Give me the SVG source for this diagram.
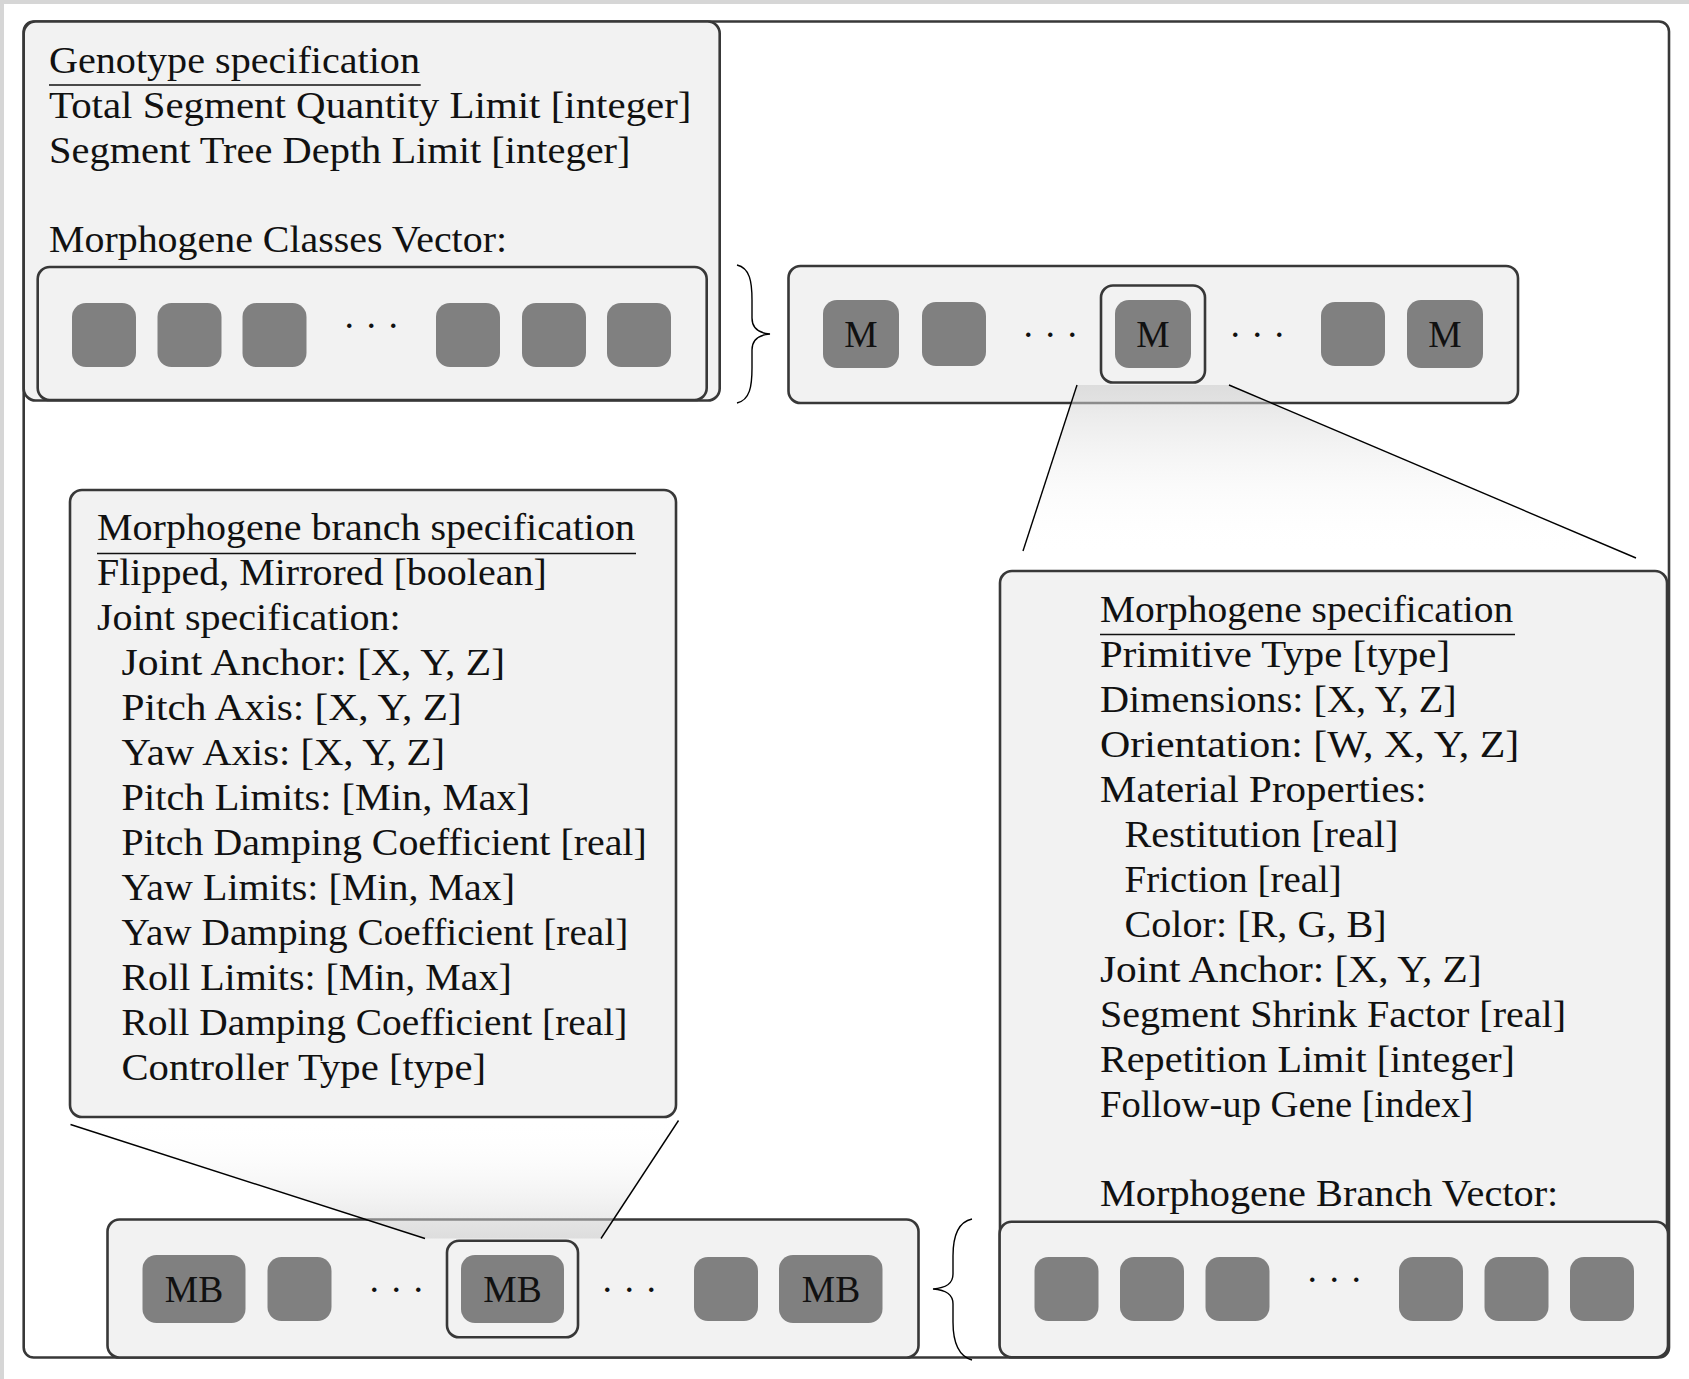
<svg xmlns="http://www.w3.org/2000/svg" width="1689" height="1379" viewBox="0 0 1689 1379">
<style>
.box{fill:#f2f2f2;stroke:#383838;stroke-width:2.6}
.frame{fill:#fff;stroke:#383838;stroke-width:2.6}
.hl{fill:none;stroke:#383838;stroke-width:2.6}
.sq{fill:#808080}
.t{font-family:"Liberation Serif","Times New Roman",serif;font-size:37.5px;fill:#111}
.c{text-anchor:middle}
.dots{font-family:"Liberation Serif","Times New Roman",serif;font-size:37.5px;fill:#111;text-anchor:middle;letter-spacing:9.5px}
.ul{stroke:#111;stroke-width:1.5}
.ln{stroke:#000;stroke-width:1.4;fill:none}
</style>
<defs>
<linearGradient id="gDown" gradientUnits="userSpaceOnUse" x1="0" y1="385" x2="0" y2="556">
<stop offset="0" stop-color="#cfcfcf" stop-opacity="0.6"/>
<stop offset="1" stop-color="#ffffff" stop-opacity="0"/>
</linearGradient>
<linearGradient id="gUp" gradientUnits="userSpaceOnUse" x1="0" y1="1120" x2="0" y2="1239">
<stop offset="0" stop-color="#ffffff" stop-opacity="0"/>
<stop offset="1" stop-color="#cfcfcf" stop-opacity="0.6"/>
</linearGradient>
</defs>
<rect width="1689" height="1379" fill="#fff"/>
<path d="M2,1379 V2 H1689" fill="none" stroke="#d6d6d6" stroke-width="4"/>

<g id="outer-frame">
<rect class="frame" x="23.7" y="21.5" width="1645.3" height="1336" rx="10"/>
</g>

<g id="genotype-spec">
<rect class="box" x="23.7" y="21.5" width="696" height="379" rx="12"/>
<text class="t" x="49" y="72.5" textLength="371" lengthAdjust="spacingAndGlyphs">Genotype specification</text>
<line class="ul" x1="49" y1="85" x2="420.7" y2="85"/>
<text class="t" x="49" y="117.5" textLength="642.5" lengthAdjust="spacingAndGlyphs">Total Segment Quantity Limit [integer]</text>
<text class="t" x="49" y="162.5" textLength="581.5" lengthAdjust="spacingAndGlyphs">Segment Tree Depth Limit [integer]</text>
<text class="t" x="49" y="252" textLength="458" lengthAdjust="spacingAndGlyphs">Morphogene Classes Vector:</text>
</g>

<g id="classes-vector">
<rect class="box" x="37.7" y="267" width="669" height="133" rx="12"/>
<rect class="sq" x="72" y="303" width="64" height="64" rx="14"/>
<rect class="sq" x="157.5" y="303" width="64" height="64" rx="14"/>
<rect class="sq" x="242.5" y="303" width="64" height="64" rx="14"/>
<text class="dots" x="376" y="338">···</text>
<rect class="sq" x="436" y="303" width="64" height="64" rx="14"/>
<rect class="sq" x="522" y="303" width="64" height="64" rx="14"/>
<rect class="sq" x="607" y="303" width="64" height="64" rx="14"/>
</g>

<g id="morphogene-vector">
<rect class="box" x="788.5" y="266" width="729.5" height="137" rx="12"/>
<rect class="sq" x="823" y="300" width="76" height="68" rx="14"/>
<text class="t c" x="861" y="346.5">M</text>
<rect class="sq" x="922" y="302" width="64" height="64" rx="14"/>
<text class="dots" x="1055" y="347">···</text>
<rect class="sq" x="1115" y="300" width="76" height="68" rx="14"/>
<text class="t c" x="1153" y="346.5">M</text>
<rect class="hl" x="1101" y="285.5" width="104" height="97" rx="12"/>
<text class="dots" x="1262" y="347">···</text>
<rect class="sq" x="1321" y="302" width="64" height="64" rx="14"/>
<rect class="sq" x="1407" y="300" width="76" height="68" rx="14"/>
<text class="t c" x="1445" y="346.5">M</text>
</g>

<g id="branch-spec">
<rect class="box" x="70" y="490" width="606" height="627" rx="12"/>
<text class="t" x="97" y="540" textLength="538" lengthAdjust="spacingAndGlyphs">Morphogene branch specification</text>
<line class="ul" x1="97" y1="553.5" x2="636" y2="553.5"/>
<text class="t" x="97" y="585" textLength="449.7" lengthAdjust="spacingAndGlyphs">Flipped, Mirrored [boolean]</text>
<text class="t" x="97" y="630" textLength="303.7" lengthAdjust="spacingAndGlyphs">Joint specification:</text>
<text class="t" x="121.5" y="675" textLength="383.5" lengthAdjust="spacingAndGlyphs">Joint Anchor: [X, Y, Z]</text>
<text class="t" x="121.5" y="720" textLength="340.2" lengthAdjust="spacingAndGlyphs">Pitch Axis: [X, Y, Z]</text>
<text class="t" x="121.5" y="765" textLength="323.5" lengthAdjust="spacingAndGlyphs">Yaw Axis: [X, Y, Z]</text>
<text class="t" x="121.5" y="810" textLength="408.5" lengthAdjust="spacingAndGlyphs">Pitch Limits: [Min, Max]</text>
<text class="t" x="121.5" y="855" textLength="525.2" lengthAdjust="spacingAndGlyphs">Pitch Damping Coefficient [real]</text>
<text class="t" x="121.5" y="900" textLength="393.5" lengthAdjust="spacingAndGlyphs">Yaw Limits: [Min, Max]</text>
<text class="t" x="121.5" y="945" textLength="506.8" lengthAdjust="spacingAndGlyphs">Yaw Damping Coefficient [real]</text>
<text class="t" x="121.5" y="990" textLength="390.2" lengthAdjust="spacingAndGlyphs">Roll Limits: [Min, Max]</text>
<text class="t" x="121.5" y="1035" textLength="505.8" lengthAdjust="spacingAndGlyphs">Roll Damping Coefficient [real]</text>
<text class="t" x="121.5" y="1080" textLength="364.5" lengthAdjust="spacingAndGlyphs">Controller Type [type]</text>
</g>

<g id="morphogene-spec">
<rect class="box" x="1000" y="571" width="667" height="786" rx="12"/>
<text class="t" x="1100" y="621.5" textLength="413.3" lengthAdjust="spacingAndGlyphs">Morphogene specification</text>
<line class="ul" x1="1100" y1="634.5" x2="1515" y2="634.5"/>
<text class="t" x="1100" y="666.5" textLength="350" lengthAdjust="spacingAndGlyphs">Primitive Type [type]</text>
<text class="t" x="1100" y="711.5" textLength="356.7" lengthAdjust="spacingAndGlyphs">Dimensions: [X, Y, Z]</text>
<text class="t" x="1100" y="756.5" textLength="419.3" lengthAdjust="spacingAndGlyphs">Orientation: [W, X, Y, Z]</text>
<text class="t" x="1100" y="801.5" textLength="326.7" lengthAdjust="spacingAndGlyphs">Material Properties:</text>
<text class="t" x="1124.5" y="846.5" textLength="273.8" lengthAdjust="spacingAndGlyphs">Restitution [real]</text>
<text class="t" x="1124.5" y="891.5" textLength="217.2" lengthAdjust="spacingAndGlyphs">Friction [real]</text>
<text class="t" x="1124.5" y="936.5" textLength="262.2" lengthAdjust="spacingAndGlyphs">Color: [R, G, B]</text>
<text class="t" x="1100" y="981.5" textLength="381.7" lengthAdjust="spacingAndGlyphs">Joint Anchor: [X, Y, Z]</text>
<text class="t" x="1100" y="1026.5" textLength="466" lengthAdjust="spacingAndGlyphs">Segment Shrink Factor [real]</text>
<text class="t" x="1100" y="1071.5" textLength="415" lengthAdjust="spacingAndGlyphs">Repetition Limit [integer]</text>
<text class="t" x="1100" y="1116.5" textLength="373.3" lengthAdjust="spacingAndGlyphs">Follow-up Gene [index]</text>
<text class="t" x="1100" y="1206" textLength="458.3" lengthAdjust="spacingAndGlyphs">Morphogene Branch Vector:</text>
</g>

<g id="branch-vector">
<rect class="box" x="999.6" y="1221.7" width="668.4" height="135.5" rx="12"/>
<rect class="sq" x="1034.5" y="1257" width="64" height="64" rx="14"/>
<rect class="sq" x="1120" y="1257" width="64" height="64" rx="14"/>
<rect class="sq" x="1205.5" y="1257" width="64" height="64" rx="14"/>
<text class="dots" x="1339" y="1292">···</text>
<rect class="sq" x="1399" y="1257" width="64" height="64" rx="14"/>
<rect class="sq" x="1484.5" y="1257" width="64" height="64" rx="14"/>
<rect class="sq" x="1570" y="1257" width="64" height="64" rx="14"/>
</g>

<g id="mb-vector">
<rect class="box" x="107.5" y="1219.5" width="811" height="138" rx="12"/>
<rect class="sq" x="142.5" y="1255" width="103" height="68" rx="14"/>
<text class="t c" x="194" y="1301.5">MB</text>
<rect class="sq" x="267.5" y="1257" width="64" height="64" rx="14"/>
<text class="dots" x="401" y="1302">···</text>
<rect class="sq" x="461" y="1255" width="103" height="68" rx="14"/>
<text class="t c" x="512.5" y="1301.5">MB</text>
<rect class="hl" x="447" y="1240.7" width="131" height="96.6" rx="12"/>
<text class="dots" x="634" y="1302">···</text>
<rect class="sq" x="694" y="1257" width="64" height="64" rx="14"/>
<rect class="sq" x="779" y="1255" width="103.5" height="68" rx="14"/>
<text class="t c" x="831" y="1301.5">MB</text>
</g>

<g id="connectors">
<polygon points="1077,385 1229,385 1636,558 1023,551" fill="url(#gDown)"/>
<line class="ln" x1="1077" y1="385" x2="1023" y2="551"/>
<line class="ln" x1="1229" y1="385" x2="1636" y2="558"/>
<polygon points="70.5,1124.5 678.5,1120.5 601,1238.5 425,1238.5" fill="url(#gUp)"/>
<line class="ln" x1="70.5" y1="1124.5" x2="425" y2="1238.5"/>
<line class="ln" x1="678.5" y1="1120.5" x2="601" y2="1238.5"/>
<path class="ln" d="M737,265 C750,268 752,282 752,300 L752,318 C752,328 758,333 770,334 C758,335 752,340 752,350 L752,368 C752,386 750,400 737,403"/>
<path class="ln" d="M972,1219 C958,1222 953,1237 953,1256 L953,1274 C953,1284 946,1288 933,1289 C946,1290 953,1294 953,1304 L953,1322 C953,1341 958,1356 972,1360"/>
</g>
</svg>
